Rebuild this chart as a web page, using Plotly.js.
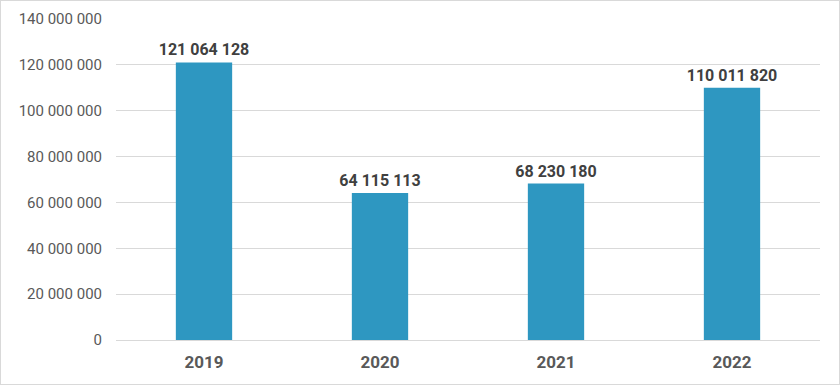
<!DOCTYPE html>
<html><head><meta charset="utf-8">
<script src="https://cdn.plot.ly/plotly-3.0.1.min.js"></script>
<style>
html,body{margin:0;padding:0;background:#fff;}
#chart{width:840px;height:385px;box-sizing:border-box;border:1px solid #d9d9d9;}
</style></head>
<body><div id="chart"></div>
<script>
const years = ['2019', '2020', '2021', '2022'];
const values = [121064128, 64115113, 68230180, 110011820];
const yTicks = [0, 20000000, 40000000, 60000000, 80000000, 100000000, 120000000, 140000000];

Plotly.newPlot('chart', [{
  type: 'bar',
  x: years,
  y: values,
  width: 0.32,
  marker: {color: '#2E97C1'},
  text: values,
  texttemplate: '%{y:,}',
  textposition: 'outside',
  constraintext: 'none',
  cliponaxis: false,
  textfont: {family: 'Roboto', size: 16, color: '#404040', weight: 'bold'},
  hoverinfo: 'none'
}], {
  width: 838, height: 383,
  margin: {l: 115, r: 19, t: 18, b: 44},
  separators: '. ',
  paper_bgcolor: '#fff', plot_bgcolor: '#fff',
  showlegend: false,
  xaxis: {
    type: 'category',
    tickfont: {family: 'Roboto', size: 17, color: '#595959', weight: 'bold'},
    ticks: '', showline: false, showgrid: false,
    ticklabelstandoff: 10
  },
  yaxis: {
    range: [0, 140000000],
    tickvals: yTicks,
    tickformat: ',d',
    tickfont: {family: 'Roboto', size: 15, color: '#595959'},
    gridcolor: '#d9d9d9', gridwidth: 1,
    zeroline: true, zerolinecolor: '#d9d9d9', zerolinewidth: 1,
    ticks: '', ticklabelstandoff: 13, showline: false
  }
}, {displayModeBar: false, staticPlot: true});
</script></body></html>
